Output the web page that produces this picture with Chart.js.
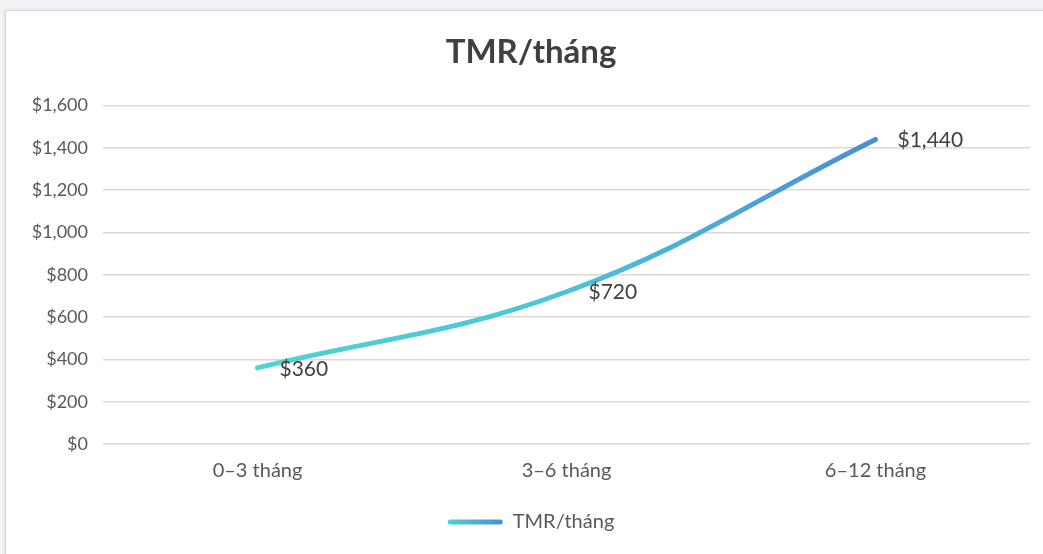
<!DOCTYPE html>
<html>
<head>
<meta charset="utf-8">
<script src="https://cdn.jsdelivr.net/npm/chart.js@4/dist/chart.umd.min.js"></script>
<style>
  html, body { margin: 0; padding: 0; width: 1043px; height: 554px; overflow: hidden; background: #f1f3f6; position: relative; }
  #frame { position: absolute; left: 5px; top: 10px; width: 1052px; height: 560px; background: #fff; border: 1px solid #d6d6d6; box-shadow: 0 0 3px rgba(0,0,0,0.12); }
  #wrap { position: absolute; left: 5px; top: 0; width: 1052px; height: 554px; }
</style>
</head>
<body>
<div id="frame"></div>
<div id="wrap"><canvas id="c" width="1052" height="554"></canvas></div>
<script>
const categories = ["0–3 tháng", "3–6 tháng", "6–12 tháng"];
const seriesName = "TMR/tháng";
const values = [360, 720, 1440];
const dataLabels = ["$360", "$720", "$1,440"];
const chartTitle = "TMR/tháng";
const yMin = 0, yMax = 1600, yStep = 200;

const FONT = "Lato, 'Open Sans', sans-serif";
const C_START = '#4fd3d3', C_MID = '#4cc4d8', C_END = '#4a8dd4';
const LEGEND_BOX_W = 55;

function lineGradient(chart) {
  const xs = chart.scales && chart.scales.x;
  if (!xs || !chart.chartArea) return C_MID;
  const x0 = xs.getPixelForValue(0), x1 = xs.getPixelForValue(categories.length - 1);
  if (!isFinite(x0) || !isFinite(x1) || x0 === x1) return C_MID;
  const g = chart.ctx.createLinearGradient(x0, 0, x1, 0);
  g.addColorStop(0, C_START);
  g.addColorStop(0.5, C_MID);
  g.addColorStop(1, C_END);
  return g;
}

const legendGradientPlugin = {
  id: 'legendGradientPlugin',
  beforeDraw(chart) {
    const lg = chart.legend;
    if (!lg || !lg.legendHitBoxes || !lg.legendHitBoxes.length || !lg.legendItems) return;
    const hb = lg.legendHitBoxes[0];
    if (!isFinite(hb.left)) return;
    const g = chart.ctx.createLinearGradient(hb.left, 0, hb.left + LEGEND_BOX_W, 0);
    g.addColorStop(0, C_START);
    g.addColorStop(1, C_END);
    lg.legendItems[0].fillStyle = g;
  }
};

const dataLabelPlugin = {
  id: 'dataLabelPlugin',
  afterDatasetsDraw(chart) {
    const ctx = chart.ctx;
    const meta = chart.getDatasetMeta(0);
    ctx.save();
    ctx.font = "21px " + FONT;
    ctx.fillStyle = '#404040';
    ctx.textAlign = 'left';
    ctx.textBaseline = 'middle';
    meta.data.forEach((pt, i) => {
      ctx.fillText(dataLabels[i], pt.x + 22, pt.y + 1);
    });
    ctx.restore();
  }
};

const ctx = document.getElementById('c').getContext('2d');
const chart = new Chart(ctx, {
  type: 'line',
  data: {
    labels: categories,
    datasets: [{
      label: seriesName,
      data: values,
      borderColor: (c) => lineGradient(c.chart),
      backgroundColor: C_MID,
      borderWidth: 5,
      borderCapStyle: 'round',
      tension: 0.4,
      pointRadius: 0,
      pointHoverRadius: 0,
      fill: false
    }]
  },
  options: {
    responsive: false,
    animation: false,
    devicePixelRatio: 1,
    layout: { padding: { left: 27, right: 27, top: 0, bottom: 12 } },
    plugins: {
      title: {
        display: true,
        text: chartTitle,
        color: '#404040',
        font: { family: FONT, size: 33, weight: 'bold' },
        padding: { top: 33, bottom: 33 }
      },
      legend: {
        display: true,
        position: 'bottom',
        labels: {
          color: '#595959',
          font: { family: FONT, size: 20 },
          boxWidth: LEGEND_BOX_W,
          boxHeight: 5,
          padding: 10,
          generateLabels(chart) {
            return [{
              text: seriesName,
              fillStyle: C_MID,
              strokeStyle: 'rgba(0,0,0,0)',
              lineWidth: 0,
              borderRadius: 2.5,
              hidden: false,
              datasetIndex: 0,
              fontColor: '#595959'
            }];
          }
        }
      },
      tooltip: { enabled: false }
    },
    scales: {
      x: {
        offset: true,
        grid: { display: false, drawTicks: false },
        border: { display: false },
        ticks: { color: '#595959', font: { family: FONT, size: 20 }, padding: 15 },
        afterFit(scale) { scale.height = 58; }
      },
      y: {
        min: yMin,
        max: yMax,
        grid: { color: '#d9d9d9', lineWidth: 1.5, drawTicks: false },
        border: { display: false },
        ticks: {
          stepSize: yStep,
          color: '#595959',
          font: { family: FONT, size: 18 },
          padding: 15,
          callback: (v) => '$' + Number(v).toLocaleString('en-US')
        },
        afterFit(scale) { scale.width = 71; }
      }
    }
  },
  plugins: [legendGradientPlugin, dataLabelPlugin]
});
</script>
</body>
</html>
